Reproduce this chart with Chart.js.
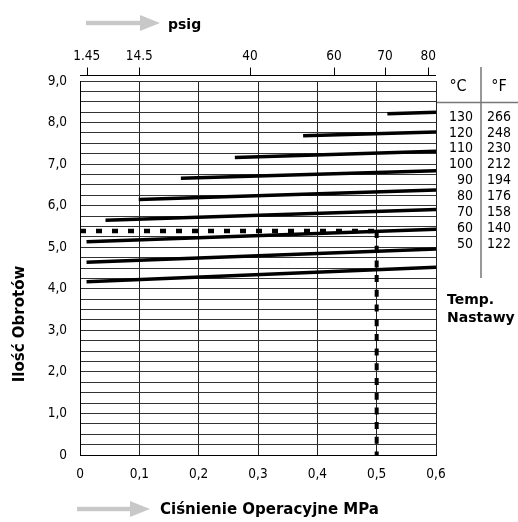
<!DOCTYPE html>
<html>
<head>
<meta charset="utf-8">
<script src="https://cdn.jsdelivr.net/npm/chart.js@4/dist/chart.umd.min.js"></script>
<style>
  html, body { margin: 0; padding: 0; background: #fff; }
  canvas { display: block; }
</style>
</head>
<body>
<canvas id="turnsChart" width="518" height="522"></canvas>
<script>
// Set temperature (°C / °F), one line per temperature
const tempC = [50, 60, 70, 80, 90, 100, 110, 120, 130];
const tempF = [122, 140, 158, 176, 194, 212, 230, 248, 266];
// Operating pressure (MPa) where each line begins, all end at 0.6
const pressureStart = [0.011, 0.011, 0.011, 0.043, 0.099, 0.170, 0.261, 0.376, 0.518];
const pressureEnd = 0.6;
// Number of turns at the start and at the end of each line
const turnsStart = [4.17, 4.64, 5.13, 5.65, 6.15, 6.66, 7.16, 7.68, 8.21];
const turnsEnd = [4.52, 4.96, 5.43, 5.91, 6.38, 6.84, 7.31, 7.77, 8.25];

// Example reading: 0.5 MPa -> 5.4 turns
const readPressure = 0.5;
const readTurns = 5.39;

// Axis ticks
const xTicks = [0, 0.1, 0.2, 0.3, 0.4, 0.5, 0.6];
const xLabels = ['0', '0,1', '0,2', '0,3', '0,4', '0,5', '0,6'];
const yTicks = [0, 1, 2, 3, 4, 5, 6, 7, 8, 9];
const yLabels = ['0', '1,0', '2,0', '3,0', '4,0', '5,0', '6,0', '7,0', '8,0', '9,0'];
const psigTicks = [0.0113, 0.1, 0.2865, 0.428, 0.514, 0.587];
const psigLabels = ['1.45', '14.5', '40', '60', '70', '80'];

const tickFont = { family: "'DejaVu Sans Condensed', 'DejaVu Sans', sans-serif", size: 13.5 };
const boldFont = "'DejaVu Sans', sans-serif";

const tempLines = tempC.map((t, i) => ({
    label: t + ' °C',
    data: [
        { x: pressureStart[i], y: turnsStart[i] },
        { x: pressureEnd, y: turnsEnd[i] }
    ],
    borderColor: '#000',
    borderWidth: 3.5,
    borderCapStyle: 'butt',
    pointRadius: 0,
    fill: false
}));

const readingLines = [
    {
        label: 'odczyt poziomy',
        data: [{ x: 0, y: readTurns }, { x: readPressure, y: readTurns }],
        borderColor: '#000',
        borderWidth: 4.5,
        borderDash: [6, 10],
        borderCapStyle: 'butt',
        pointRadius: 0,
        fill: false
    },
    {
        label: 'odczyt pionowy',
        data: [{ x: readPressure, y: readTurns }, { x: readPressure, y: 0 }],
        borderColor: '#000',
        borderWidth: 4,
        borderDash: [7, 7.7],
        borderCapStyle: 'butt',
        pointRadius: 0,
        fill: false
    }
];

const arrow = (ctx, x0, x1, y) => {
    ctx.save();
    ctx.fillStyle = '#c8c8c8';
    ctx.fillRect(x0, y - 2.2, x1 - 20 - x0, 4.4);
    ctx.beginPath();
    ctx.moveTo(x1 - 20, y - 8);
    ctx.lineTo(x1, y);
    ctx.lineTo(x1 - 20, y + 8);
    ctx.closePath();
    ctx.fill();
    ctx.restore();
};

// Extra drawing: psig axis line, titles with arrows, temperature table
const decorations = {
    id: 'decorations',
    afterDraw(chart) {
        const ctx = chart.ctx;
        const area = chart.chartArea;
        const x2 = chart.scales.x2;

        ctx.save();
        // psig axis line sits a little above the plot box
        ctx.strokeStyle = '#000';
        ctx.lineWidth = 1;
        const axisY = Math.round(area.top - 6) + 0.5;
        ctx.beginPath();
        ctx.moveTo(area.left, axisY);
        ctx.lineTo(area.right, axisY);
        psigTicks.forEach(v => {
            const px = Math.round(x2.getPixelForValue(v)) + 0.5;
            ctx.moveTo(px, axisY);
            ctx.lineTo(px, axisY - 8);
        });
        ctx.stroke();

        // titles
        ctx.fillStyle = '#000';
        ctx.textBaseline = 'middle';
        ctx.textAlign = 'left';
        arrow(ctx, 86, 160, 23);
        ctx.font = 'bold 14px ' + boldFont;
        ctx.fillText('psig', 168, 25);

        arrow(ctx, 77, 150, 509);
        ctx.font = 'bold 15px ' + boldFont;
        ctx.fillText('Ciśnienie Operacyjne MPa', 160, 510);

        ctx.save();
        ctx.translate(20, 324);
        ctx.rotate(-Math.PI / 2);
        ctx.textAlign = 'center';
        ctx.fillText('Ilość Obrotów', 0, 0);
        ctx.restore();

        // temperature table
        ctx.strokeStyle = '#777';
        ctx.lineWidth = 1.5;
        ctx.beginPath();
        ctx.moveTo(481, 67);
        ctx.lineTo(481, 278);
        ctx.moveTo(area.right + 1, 102.5);
        ctx.lineTo(518, 102.5);
        ctx.stroke();

        ctx.font = '16px ' + tickFont.family;
        ctx.textAlign = 'center';
        ctx.fillText('°C', 458, 87);
        ctx.fillText('°F', 499, 87);

        ctx.font = '14px ' + tickFont.family;
        for (let i = tempC.length - 1; i >= 0; i--) {
            const row = tempC.length - 1 - i;
            const y = 117 + row * 15.9;
            ctx.textAlign = 'right';
            ctx.fillText(String(tempC[i]), 473, y);
            ctx.textAlign = 'left';
            ctx.fillText(String(tempF[i]), 487, y);
        }

        ctx.font = 'bold 14px ' + boldFont;
        ctx.textAlign = 'left';
        ctx.fillText('Temp.', 447, 300);
        ctx.fillText('Nastawy', 447, 318);
        ctx.restore();
    }
};

new Chart(document.getElementById('turnsChart'), {
    type: 'line',
    data: { datasets: [...tempLines, ...readingLines] },
    options: {
        responsive: false,
        animation: false,
        devicePixelRatio: 1,
        layout: { padding: { right: 82, left: 0, top: 0, bottom: 0 } },
        plugins: {
            legend: { display: false },
            tooltip: { enabled: false }
        },
        scales: {
            x: {
                type: 'linear',
                position: 'bottom',
                min: 0,
                max: 0.6,
                afterBuildTicks: s => { s.ticks = xTicks.map(v => ({ value: v })); },
                afterFit: s => { s.height = 67; },
                ticks: {
                    color: '#000',
                    font: tickFont,
                    padding: 11,
                    maxRotation: 0,
                    callback: (v, i) => xLabels[i]
                },
                grid: { color: '#222', lineWidth: 1, drawTicks: false },
                border: { color: '#000', width: 1 }
            },
            x2: {
                type: 'linear',
                position: 'top',
                min: 0,
                max: 0.6,
                afterBuildTicks: s => { s.ticks = psigTicks.map(v => ({ value: v })); },
                afterFit: s => { s.height = 81; },
                ticks: {
                    color: '#000',
                    font: tickFont,
                    padding: 8,
                    maxRotation: 0,
                    autoSkip: false,
                    callback: (v, i) => psigLabels[i]
                },
                grid: { display: false },
                border: { display: false }
            },
            y: {
                type: 'linear',
                min: 0,
                max: 9,
                afterBuildTicks: s => {
                    const t = [];
                    for (let v = 0; v <= 36; v++) t.push({ value: v / 4 });
                    s.ticks = t;
                },
                afterFit: s => { s.width = 80; },
                ticks: {
                    color: '#000',
                    font: tickFont,
                    padding: 13,
                    autoSkip: false,
                    callback: v => {
                        const i = yTicks.indexOf(v);
                        return i >= 0 ? yLabels[i] : '';
                    }
                },
                grid: { color: '#333', lineWidth: 1, drawTicks: false },
                border: { color: '#000', width: 1 }
            }
        }
    },
    plugins: [decorations]
});
</script>
</body>
</html>
